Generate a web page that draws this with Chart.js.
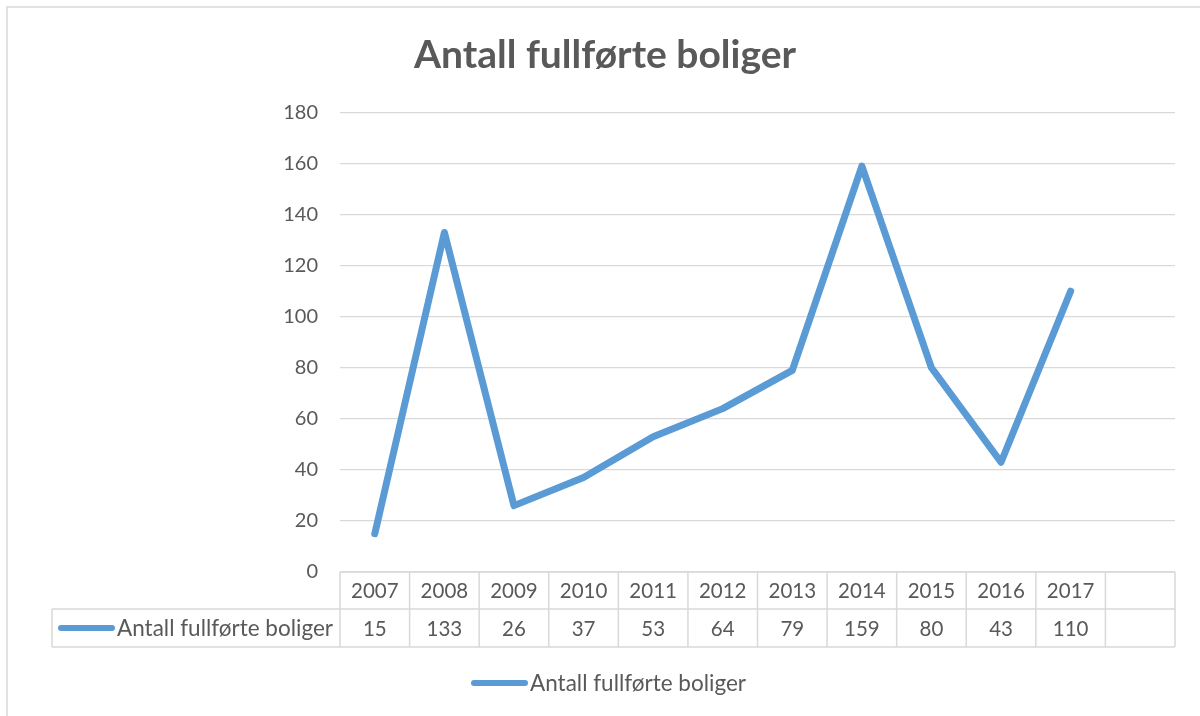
<!DOCTYPE html>
<html>
<head>
<meta charset="utf-8">
<script src="https://cdn.jsdelivr.net/npm/chart.js@4"></script>
<style>
  html, body { margin: 0; padding: 0; background: #fff; }
  #wrap { width: 1200px; height: 716px; position: relative; }
</style>
</head>
<body>
<div id="wrap"><canvas id="chart" width="1200" height="716"></canvas></div>
<script>
const TITLE = "Antall fullførte boliger";
const SERIES_NAME = "Antall fullførte boliger";
const YEARS = ["2007", "2008", "2009", "2010", "2011", "2012", "2013", "2014", "2015", "2016", "2017", ""];
const COMPLETED = [15, 133, 26, 37, 53, 64, 79, 159, 80, 43, 110, null];
const Y_MIN = 0;
const Y_MAX = 180;
const Y_STEP = 20;

const TEXT_COLOR = "#595959";
const GRID_COLOR = "#d9d9d9";
const LINE_COLOR = "#5b9bd5";
const FONT = "Lato, 'Open Sans', sans-serif";

// data table under the plot + bottom legend + outer frame
const tablePlugin = {
  id: "dataTable",
  afterDraw(chart) {
    const { ctx, chartArea } = chart;
    const x = chart.scales.x;
    const colW = (chartArea.right - chartArea.left) / YEARS.length;
    const top = chartArea.bottom;
    const mid = top + 37;
    const bottom = mid + 38;
    const legendLeft = 52;

    ctx.save();
    ctx.strokeStyle = GRID_COLOR;
    ctx.lineWidth = 1.5;

    // frame round the whole chart
    ctx.strokeRect(7, 7, 1220, 740);

    // table rules
    ctx.beginPath();
    ctx.moveTo(chartArea.left, top);
    ctx.lineTo(chartArea.right, top);
    ctx.moveTo(legendLeft, mid);
    ctx.lineTo(chartArea.right, mid);
    ctx.moveTo(legendLeft, bottom);
    ctx.lineTo(chartArea.right, bottom);
    ctx.moveTo(legendLeft, mid);
    ctx.lineTo(legendLeft, bottom);
    for (let i = 0; i <= YEARS.length; i++) {
      const cx = chartArea.left + i * colW;
      ctx.moveTo(cx, top);
      ctx.lineTo(cx, bottom);
    }
    ctx.stroke();

    // cell texts
    ctx.fillStyle = TEXT_COLOR;
    ctx.font = "20.5px " + FONT;
    ctx.textAlign = "center";
    ctx.textBaseline = "middle";
    YEARS.forEach((yr, i) => {
      const cx = x.getPixelForValue(i);
      ctx.fillText(yr, cx, (top + mid) / 2 + 1);
      if (COMPLETED[i] != null) ctx.fillText(String(COMPLETED[i]), cx, (mid + bottom) / 2 + 1);
    });

    // legend keys (in the table and below it)
    const drawKey = (x0, y0, label) => {
      ctx.strokeStyle = LINE_COLOR;
      ctx.lineWidth = 6;
      ctx.lineCap = "round";
      ctx.beginPath();
      ctx.moveTo(x0 + 3, y0);
      ctx.lineTo(x0 + 54, y0);
      ctx.stroke();
      ctx.fillStyle = TEXT_COLOR;
      ctx.font = "22.5px " + FONT;
      ctx.textAlign = "left";
      ctx.fillText(label, x0 + 59, y0 + 1);
    };
    drawKey(58, (mid + bottom) / 2, SERIES_NAME);
    drawKey(471, 683, SERIES_NAME);
    ctx.restore();
  },
};

new Chart(document.getElementById("chart"), {
  type: "line",
  data: {
    labels: YEARS,
    datasets: [
      {
        label: SERIES_NAME,
        data: COMPLETED,
        borderColor: LINE_COLOR,
        backgroundColor: LINE_COLOR,
        borderWidth: 7,
        borderCapStyle: "round",
        borderJoinStyle: "round",
        pointRadius: 0,
        tension: 0,
      },
    ],
  },
  options: {
    responsive: false,
    animation: false,
    layout: { padding: { left: 10, right: 0, top: 0, bottom: 144 } },
    scales: {
      x: { type: "category", offset: true, display: false },
      y: {
        min: Y_MIN,
        max: Y_MAX,
        ticks: { stepSize: Y_STEP, color: TEXT_COLOR, font: { family: FONT, size: 20 }, padding: 22 },
        grid: { color: GRID_COLOR, lineWidth: 1.3, drawTicks: false },
        border: { display: false },
        afterFit(scale) { scale.width = 330; },
      },
      // empty right-hand strip so the plot ends where the reference does
      yRight: {
        position: "right",
        display: true,
        ticks: { display: false },
        grid: { display: false },
        border: { display: false },
        afterFit(scale) { scale.width = 25; },
      },
    },
    plugins: {
      legend: { display: false },
      tooltip: { enabled: false },
      title: {
        display: true,
        text: TITLE,
        color: TEXT_COLOR,
        font: { family: FONT, size: 39, weight: "bold", lineHeight: 1.2 },
        padding: { top: 31.6, bottom: 34.1 },
      },
    },
  },
  plugins: [tablePlugin],
});
</script>
</body>
</html>
